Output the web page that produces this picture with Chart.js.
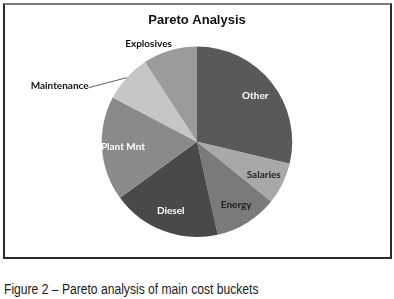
<!DOCTYPE html>
<html>
<head>
<meta charset="utf-8">
<script src="https://cdn.jsdelivr.net/npm/chart.js"></script>
<style>
  body { margin: 0; background: #fff; width: 394px; height: 299px; position: relative; overflow: hidden; }
  #frame { position: absolute; left: 3px; top: 3px; width: 385px; height: 252px;
           border: 2px solid #2b2b2b; border-top-color: #7a7a7a; }
  #wrap { position: absolute; left: 0; top: 0; width: 394px; height: 260px; }
  #caption { position: absolute; left: 4px; top: 281px; font-family: "Liberation Sans", Arial, sans-serif;
             font-size: 14px; color: #1a1a1a; white-space: nowrap; line-height: 16px;
             transform: scaleX(0.865); transform-origin: 0 0; }
</style>
</head>
<body>
<div id="frame"></div>
<div id="wrap"><canvas id="mychart" width="394" height="260"></canvas></div>
<div id="caption">Figure 2 – Pareto analysis of main cost buckets</div>
<script>
var labels = ["Other", "Salaries", "Energy", "Diesel", "Plant Mnt", "Maintenance", "Explosives"]
var values = [28.7, 7.1, 10.7, 18.5, 17.7, 8.1, 9.2]
var colors = ["#595959", "#a8a8a8", "#7a7a7a", "#494949", "#8a8a8a", "#c6c6c6", "#9b9b9b"]
var textColors = ["#fff", "#222", "#222", "#fff", "#fff", "#222", "#222"]
// slices whose label sits outside the pie
var outside = ["Maintenance", "Explosives"]

// draws the slice labels, excel style
var sliceLabels = {
    id: 'sliceLabels',
    afterDatasetsDraw: function(chart) {
        var ctx = chart.ctx;
        var arcs = chart.getDatasetMeta(0).data;
        ctx.save();
        ctx.font = "bold 10px Lato, 'Liberation Sans', sans-serif";
        arcs.forEach(function(arc, i) {
            var p = arc.getProps(['x', 'y', 'startAngle', 'endAngle', 'outerRadius']);
            var mid = (p.startAngle + p.endAngle) / 2;
            var name = labels[i];
            if (outside.indexOf(name) < 0) {
                var r = p.outerRadius * 0.78;
                ctx.fillStyle = textColors[i];
                ctx.textAlign = 'center';
                ctx.textBaseline = 'middle';
                ctx.fillText(name, p.x + Math.cos(mid) * r, p.y + Math.sin(mid) * r);
            } else {
                var ex = p.x + Math.cos(mid) * p.outerRadius;
                var ey = p.y + Math.sin(mid) * p.outerRadius;
                ctx.fillStyle = '#111';
                if (name == "Maintenance") {
                    var lx = ex - 38, ly = ey + 10;
                    ctx.strokeStyle = '#333';
                    ctx.lineWidth = 0.8;
                    ctx.beginPath();
                    ctx.moveTo(ex, ey);
                    ctx.lineTo(lx, ly);
                    ctx.stroke();
                    ctx.textAlign = 'right';
                    ctx.textBaseline = 'middle';
                    ctx.fillText(name, lx, ly - 2);
                } else {
                    ctx.textAlign = 'right';
                    ctx.textBaseline = 'bottom';
                    ctx.fillText(name, ex + 2, ey - 2);
                }
            }
        });
        ctx.restore();
    }
};

const ctx = document.getElementById('mychart');
var myPie = new Chart(ctx, {
    type: 'pie',
    data: {
        labels: labels,
        datasets: [{
            data: values,
            backgroundColor: colors,
            borderWidth: 0
        }]
    },
    options: {
        responsive: false,
        animation: false,
        layout: { padding: { bottom: 23 } },
        plugins: {
            legend: { display: false },
            tooltip: { enabled: false },
            title: {
                display: true,
                text: "Pareto Analysis",
                color: '#111',
                font: { family: "'Liberation Sans', Arial, sans-serif", size: 13, weight: 'bold' },
                padding: { top: 13, bottom: 18 }
            }
        }
    },
    plugins: [sliceLabels]
});
</script>
</body>
</html>
